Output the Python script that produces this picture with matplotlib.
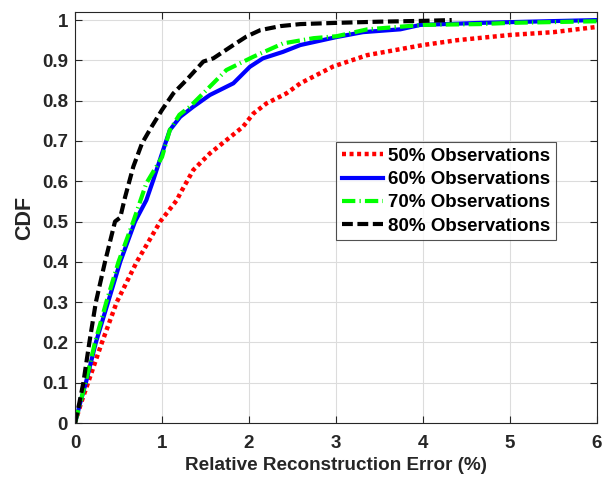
import matplotlib
matplotlib.use("Agg")
import matplotlib.pyplot as plt

plt.rcParams['font.family'] = ['Liberation Sans', 'DejaVu Sans']
plt.rcParams['font.weight'] = 'bold'

labels = ["50% Observations", "60% Observations", "70% Observations", "80% Observations"]

x50 = [0, 0.07, 0.15, 0.31, 0.48, 0.71, 0.98, 1.17, 1.21, 1.36, 1.55, 1.74, 1.93, 2.05, 2.2, 2.43, 2.59, 2.97, 3.36, 4.0, 4.39, 5.0, 5.5, 6.0]
y50 = [0, 0.05, 0.1, 0.2, 0.3, 0.4, 0.5, 0.553, 0.57, 0.628, 0.669, 0.702, 0.735, 0.768, 0.793, 0.818, 0.843, 0.885, 0.913, 0.938, 0.95, 0.963, 0.97, 0.983]

x60 = [0, 0.06, 0.125, 0.24, 0.38, 0.52, 0.69, 0.82, 0.9, 1.0, 1.09, 1.21, 1.36, 1.55, 1.82, 2.01, 2.16, 2.39, 2.59, 3.01, 3.31, 3.74, 3.97, 4.66, 5.03, 6.0]
y60 = [0, 0.05, 0.1, 0.2, 0.3, 0.4, 0.5, 0.553, 0.603, 0.669, 0.727, 0.76, 0.785, 0.814, 0.843, 0.884, 0.905, 0.921, 0.938, 0.958, 0.97, 0.977, 0.988, 0.993, 0.995, 1.0]

x70 = [0, 0.06, 0.12, 0.23, 0.36, 0.5, 0.67, 0.82, 1.0, 1.09, 1.2, 1.32, 1.51, 1.74, 2.05, 2.39, 2.74, 3.01, 3.36, 4.0, 4.66, 5.0, 6.0]
y70 = [0, 0.05, 0.1, 0.2, 0.3, 0.4, 0.5, 0.595, 0.66, 0.727, 0.765, 0.785, 0.826, 0.876, 0.909, 0.942, 0.955, 0.96, 0.977, 0.988, 0.99, 0.993, 0.997]

x80 = [0, 0.05, 0.096, 0.165, 0.24, 0.345, 0.46, 0.52, 0.575, 0.67, 0.77, 0.88, 1.0, 1.13, 1.28, 1.475, 1.59, 1.82, 1.97, 2.13, 2.36, 2.59, 3.0, 3.5, 4.0, 4.33]
y80 = [0, 0.05, 0.1, 0.2, 0.3, 0.4, 0.5, 0.51, 0.56, 0.636, 0.694, 0.735, 0.777, 0.818, 0.851, 0.897, 0.905, 0.938, 0.959, 0.975, 0.985, 0.99, 0.993, 0.996, 0.998, 1.0]

xticks = [0, 1, 2, 3, 4, 5, 6]
yticks = [0, 0.1, 0.2, 0.3, 0.4, 0.5, 0.6, 0.7, 0.8, 0.9, 1]
yticklabels = ["0", "0.1", "0.2", "0.3", "0.4", "0.5", "0.6", "0.7", "0.8", "0.9", "1"]

fig = plt.figure(figsize=(6.13, 4.79), dpi=100)
ax = fig.add_axes([75/613, 1-423/479, 522/613, 411/479])

ax.plot(x50, y50, color='#ff0000', lw=3.2, linestyle=(0, (0.9, 0.8)), label=labels[0])
ax.plot(x60, y60, color='#0000ff', lw=3, linestyle='-', label=labels[1])
ax.plot(x70, y70, color='#00ff00', lw=3, linestyle=(0, (3.2, 1.0, 0.3, 1.0)), label=labels[2])
ax.plot(x80, y80, color='#000000', lw=3, linestyle=(0, (2.6, 1.1)), label=labels[3])

ax.set_xlim(0, 6)
ax.set_ylim(0, 1.02)
ax.set_xticks(xticks)
ax.set_yticks(yticks)
ax.set_yticklabels(yticklabels)
ax.grid(True, color='#dcdcdc', linewidth=0.8)
ax.set_axisbelow(True)
ax.tick_params(direction='in', top=True, right=True, labelsize=13.5, colors='#262626', length=5, width=0.8)
ax.tick_params(axis='x', pad=9)
ax.tick_params(axis='y', pad=5)
for lab in ax.get_xticklabels() + ax.get_yticklabels():
    lab.set_fontweight('bold')
for s in ax.spines.values():
    s.set_color('#262626')
    s.set_linewidth(0.8)

ax.set_xlabel("Relative Reconstruction Error (%)", fontsize=13.6, fontweight='bold', color='#262626', labelpad=3)
ax.set_ylabel("CDF", fontsize=15.5, fontweight='bold', color='#262626', labelpad=5)

leg = ax.legend(loc='upper left', bbox_to_anchor=((336-75)/522, (423-142)/411), fontsize=13.5,
                frameon=True, fancybox=False, edgecolor='#262626', handlelength=2.2,
                borderpad=0.3, labelspacing=0.33, handletextpad=0.3, borderaxespad=0)
leg.get_frame().set_linewidth(0.8)
for t in leg.get_texts():
    t.set_fontweight('bold')

fig.savefig("out.png", dpi=100)
